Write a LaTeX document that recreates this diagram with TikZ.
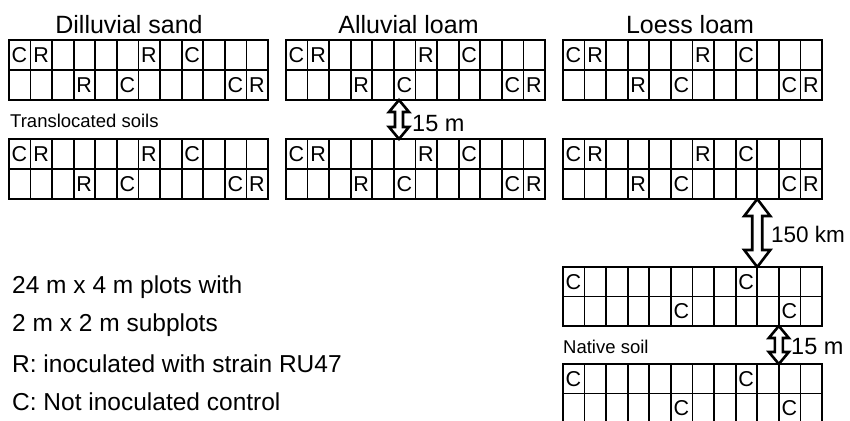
\documentclass[tikz,border=0pt]{standalone}
\usepackage{fontspec}
\setmainfont{Liberation Sans}
\usetikzlibrary{calc}
\newcommand\cw{21.583}
\newcommand\plotgrid[4]{% name, x0, y0, row height
  \node[gridbox, minimum height=#4*2pt, anchor=north west] (#1) at (#2,#3) {};
  \foreach \i in {1,...,11}
    \draw[gridline] ($(#1.north west)+(\i*\cw,0)$) -- ($(#1.south west)+(\i*\cw,0)$);
  \draw[gridline] (#1.west) -- (#1.east);
}
\newcommand\putletter[5]{% grid, col, row, letter, row height
  \node[cellletter] (#1-#2-#3) at ($(#1.north west)+({(#2-1)*\cw+2.5},{(#3-0.5)*#5})$) {#4};
}
\newcommand\translocated[1]{%
  \putletter{#1}{1}{1}{C}{30}\putletter{#1}{2}{1}{R}{30}%
  \putletter{#1}{7}{1}{R}{30}\putletter{#1}{9}{1}{C}{30}%
  \putletter{#1}{4}{2}{R}{30}\putletter{#1}{6}{2}{C}{30}%
  \putletter{#1}{11}{2}{C}{30}\putletter{#1}{12}{2}{R}{30}%
}
\newcommand\native[2]{%
  \putletter{#1}{1}{1}{C}{#2}\putletter{#1}{9}{1}{C}{#2}%
  \putletter{#1}{6}{2}{C}{#2}\putletter{#1}{11}{2}{C}{#2}%
}
\newcommand\hollowarrow[5]{% top, bottom, head half width, head length, shaft half width
  \draw[arrowline] (#1) -- ($(#1)+(#3,#4)$) -- ($(#1)+(#5,#4)$) -- ($(#2)+(#5,-#4)$)
    -- ($(#2)+(#3,-#4)$) -- (#2) -- ($(#2)+(-#3,-#4)$) -- ($(#2)+(-#5,-#4)$)
    -- ($(#1)+(-#5,#4)$) -- ($(#1)+(-#3,#4)$) -- cycle;
}
\begin{document}
\begin{tikzpicture}[x=1pt,y=-1pt,
  gridline/.style={line width=1.7pt},
  gridbox/.style={draw, line width=1.9pt, minimum width=259pt, inner sep=0pt, outer sep=0pt},
  cellletter/.style={anchor=west, inner sep=0pt, font=\fontsize{21.5}{21.5}\selectfont},
  title/.style={inner sep=0pt, font=\fontsize{25}{25}\selectfont},
  smalllabel/.style={anchor=west, inner sep=0pt, font=\fontsize{18.5}{18.5}\selectfont},
  legend/.style={anchor=west, inner sep=0pt, font=\fontsize{24.5}{24.5}\selectfont},
  distlabel/.style={anchor=west, inner sep=0pt, font=\fontsize{23.5}{23.5}\selectfont},
  arrowline/.style={draw, fill=white, line width=2.6pt, line join=miter}]
\useasboundingbox (0,0) rectangle (850,420);
\clip (0,0) rectangle (850,420);
\fill[white] (0,0) rectangle (850,420);

% titles
\node[title] (tt1) at (129,24.5) {Dilluvial sand};
\node[title] (tt2) at (408.5,24.5) {Alluvial loam};
\node[title] (tt3) at (690,24.5) {Loess loam};

% translocated grids
\plotgrid{t1a}{9}{40}{30}
\plotgrid{t2a}{286}{40}{30}
\plotgrid{t3a}{563}{40}{30}
\plotgrid{t1b}{9}{139}{30}
\plotgrid{t2b}{286}{139}{30}
\plotgrid{t3b}{563}{139}{30}
\translocated{t1a}\translocated{t2a}\translocated{t3a}
\translocated{t1b}\translocated{t2b}\translocated{t3b}

\node[smalllabel] (lbtrans) at (10,121) {Translocated soils};

% native grids
\plotgrid{n1}{563}{267}{29.5}
\plotgrid{n2}{563}{364}{29.5}
\native{n1}{29.5}\native{n2}{29.5}
\node[smalllabel] (lbnat) at (563,347) {Native soil};

% arrows
\coordinate (a1t) at ($(t2a.south west)+(113,0)$);
\coordinate (a1b) at ($(t2b.north west)+(113,0)$);
\hollowarrow{a1t}{a1b}{10}{12}{4}
\node[distlabel] (d1) at (412,124) {15 m};

\coordinate (a2t) at ($(t3b.south west)+(9*\cw,0)$);
\coordinate (a2b) at ($(n1.north west)+(9*\cw,0)$);
\hollowarrow{a2t}{a2b}{13}{17}{5}
\node[distlabel, font=\fontsize{22.5}{22.5}\selectfont] (d2) at (771,234) {150 km};

\coordinate (a3t) at ($(n1.south west)+(10*\cw,0)$);
\coordinate (a3b) at ($(n2.north west)+(10*\cw,0)$);
\hollowarrow{a3t}{a3b}{10}{12}{4}
\node[distlabel] (d3) at (791,347) {15 m};

% legend
\node[legend] (lg1) at (12,287) {24 m x 4 m plots with};
\node[legend] (lg2) at (12,325) {2 m x 2 m subplots};
\node[legend] (lg3) at (12,363.5) {R: inoculated with strain RU47};
\node[legend] (lg4) at (12,402) {C: Not inoculated control};
\end{tikzpicture}
\end{document}
